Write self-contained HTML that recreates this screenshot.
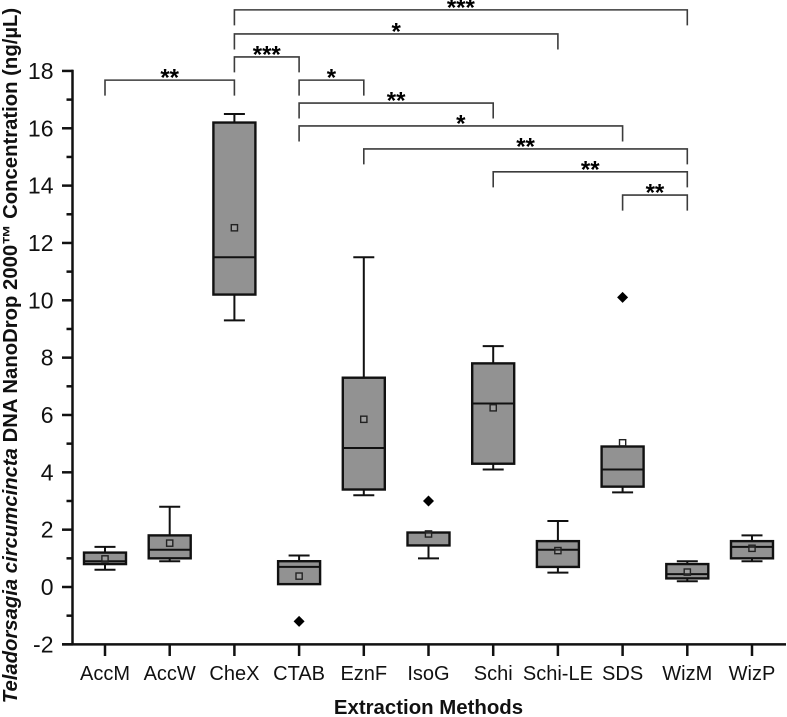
<!DOCTYPE html>
<html>
<head>
<meta charset="utf-8">
<style>
html,body{margin:0;padding:0;background:#fff;}
svg{display:block;font-family:"Liberation Sans",sans-serif;}
</style>
</head>
<body>
<svg id="chart" width="787" height="717" viewBox="0 0 787 717" xmlns="http://www.w3.org/2000/svg">
  <text x="0" y="0" transform="translate(17,355.5) rotate(-90)" text-anchor="middle" font-size="20.3" font-weight="bold" fill="#111"><tspan font-style="italic">Teladorsagia circumcincta</tspan> DNA NanoDrop 2000™ Concentration (ng/µL)</text>
  <text x="428.5" y="714" text-anchor="middle" font-size="20.4" font-weight="bold" fill="#111">Extraction Methods</text>
</svg>
<script>
const categories = ["AccM","AccW","CheX","CTAB","EznF","IsoG","Schi","Schi-LE","SDS","WizM","WizP"];
const whiskerLow  = [0.6,0.9,9.3,0.1,3.2,1.0,4.1,0.5,3.3,0.2,0.9];
const quartile1   = [0.8,1.0,10.2,0.1,3.4,1.45,4.3,0.7,3.5,0.3,1.0];
const medians     = [0.9,1.3,11.5,0.7,4.85,1.9,6.4,1.3,4.1,0.45,1.4];
const quartile3   = [1.2,1.8,16.2,0.9,7.3,1.9,7.8,1.6,4.9,0.8,1.6];
const whiskerHigh = [1.4,2.8,16.5,1.1,11.5,1.9,8.4,2.3,4.9,0.9,1.8];
const means       = [0.98,1.53,12.53,0.38,5.85,1.85,6.25,1.27,5.03,0.52,1.35];
const outliers    = [null,null,null,-1.2,null,3.0,null,null,10.1,null,null];
const yTicks = [-2,0,2,4,6,8,10,12,14,16,18];
const yMinorTicks = [-1,1,3,5,7,9,11,13,15,17];
const bracketFrom   = ["CheX","CheX","CheX","AccM","CTAB","CTAB","CTAB","EznF","Schi","SDS"];
const bracketTo     = ["WizM","Schi-LE","CTAB","CheX","EznF","Schi","SDS","WizM","WizM","WizM"];
const bracketLevels = [20.13,19.29,18.49,17.68,17.68,16.88,16.08,15.28,14.48,13.67];
const bracketStars  = ["***","*","***","**","*","**","*","**","**","**"];

const svg = document.getElementById('chart');
const NS = 'http://www.w3.org/2000/svg';
function make(tag, attrs, text) {
  const el = document.createElementNS(NS, tag);
  for (const k in attrs) el.setAttribute(k, attrs[k]);
  if (text !== undefined) el.textContent = text;
  svg.appendChild(el);
  return el;
}
function yScale(v) { return 587 - v * 28.67; }
function xScale(i) { return 105 + i * 64.7; }
const INK = '#111';

/* brackets */
bracketFrom.forEach(function (from, i) {
  const x1 = xScale(categories.indexOf(from));
  const x2 = xScale(categories.indexOf(bracketTo[i]));
  const y = yScale(bracketLevels[i]);
  const b = make('path', {d: 'M' + x1 + ' ' + (y + 15.5) + 'V' + y + 'H' + x2 + 'V' + (y + 15.5), fill: 'none', stroke: '#3c3c3c', 'stroke-width': 1.6});
  
  
  const s = make('text', {x: (x1 + x2) / 2, y: y + 5.5, 'text-anchor': 'middle', 'font-size': 24, 'font-weight': 'bold', fill: '#000'}, bracketStars[i]);
  
  
});

/* boxes */
categories.forEach(function (cat, i) {
  const x = xScale(i);
  const hasUpper = whiskerHigh[i] > quartile3[i];
  const hasLower = whiskerLow[i] < quartile1[i];
  let d = '';
  if (hasUpper) d += 'M' + (x - 10.5) + ' ' + yScale(whiskerHigh[i]) + 'H' + (x + 10.5) + 'M' + x + ' ' + yScale(whiskerHigh[i]) + 'V' + yScale(quartile3[i]);
  if (hasLower) d += 'M' + x + ' ' + yScale(quartile1[i]) + 'V' + yScale(whiskerLow[i]) + 'M' + (x - 10.5) + ' ' + yScale(whiskerLow[i]) + 'H' + (x + 10.5);
  const w = make('path', {d: d, fill: 'none', stroke: INK, 'stroke-width': 2});
  
  

  const r = make('rect', {
    x: x - 21, y: yScale(quartile3[i]), width: 42,
    height: yScale(quartile1[i]) - yScale(quartile3[i]),
    fill: '#929292', stroke: INK, 'stroke-width': 2.4
  });
  
  

  const m = make('line', {x1: x - 21, x2: x + 21, y1: yScale(medians[i]), y2: yScale(medians[i]), stroke: INK, 'stroke-width': 2});
  
  

  const a = make('rect', {x: x - 3.1, y: yScale(means[i]) - 3.1, width: 6.2, height: 6.2, fill: 'rgba(255,255,255,0.12)', stroke: '#222', 'stroke-width': 1.4});
  
  

  if (outliers[i] !== null) {
    const oy = yScale(outliers[i]);
    const o = make('path', {d: 'M' + x + ' ' + (oy - 5.5) + 'L' + (x + 5.5) + ' ' + oy + 'L' + x + ' ' + (oy + 5.5) + 'L' + (x - 5.5) + ' ' + oy + 'Z', fill: '#000'});
    
    
  }

  const t = make('line', {x1: x, x2: x, y1: 644.5, y2: 656, stroke: INK, 'stroke-width': 2.5});
  
  

  const l = make('text', {x: x, y: 680, 'text-anchor': 'middle', 'font-size': 20, fill: '#111'}, cat);
  
  
});

/* y ticks */
yTicks.forEach(function (v) {
  const y = yScale(v);
  const t = make('line', {x1: 62, x2: 73, y1: y, y2: y, stroke: INK, 'stroke-width': 2.5});
  
  
  const l = make('text', {x: 53.5, y: y + 8, 'text-anchor': 'end', 'font-size': 23, fill: '#111'}, String(v));
  
  
});
yMinorTicks.forEach(function (v) {
  const y = yScale(v);
  const t = make('line', {x1: 66.5, x2: 73, y1: y, y2: y, stroke: INK, 'stroke-width': 2.5});
  
  
});

/* axes */
const ya = make('line', {x1: 72.5, x2: 72.5, y1: yScale(18) - 1.2, y2: yScale(-2) + 1.2, stroke: INK, 'stroke-width': 2.5});


const xa = make('line', {x1: 62, x2: 786, y1: yScale(-2), y2: yScale(-2), stroke: INK, 'stroke-width': 2.5});


</script>
</body>
</html>
